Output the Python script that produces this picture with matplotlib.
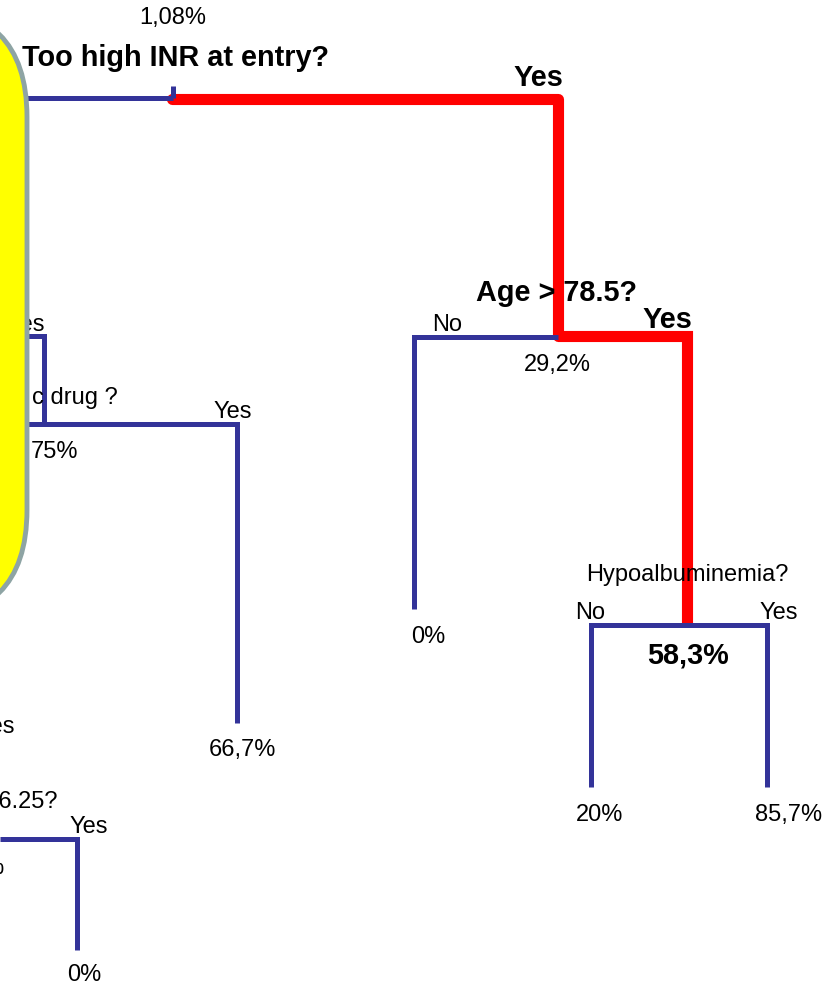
import matplotlib
matplotlib.use("Agg")
import matplotlib.pyplot as plt
from matplotlib.patches import FancyBboxPatch

plt.rcParams['font.family'] = ['Liberation Sans', 'DejaVu Sans']

# node questions, branch labels and leaf / node percentages
questions = ["Too high INR at entry?", "Age > 78.5?", "Hypoalbuminemia?", "c drug ?", "> 6.25?"]
question_bold = [True, True, False, False, False]
question_xy = [(176, 58), (557, 293), (687, 575), (32, 398), (57, 802)]
question_ha = ["center", "center", "center", "left", "right"]

branches = ["Yes", "Yes", "No", "No", "Yes", "Yes", "Yes", "Yes", "Yes"]
branch_bold = [True, True, False, False, False, False, False, False, False]
branch_xy = [(538, 78), (667, 320), (447, 325), (590, 613), (779, 613),
             (45, 325), (233, 412), (15, 727), (89, 827)]
branch_ha = ["center", "center", "center", "center", "center",
             "right", "center", "right", "center"]

pcts = ["1,08%", "29,2%", "58,3%", "0%", "20%", "85,7%", "75%", "66,7%", "0%", "0%"]
pct_bold = [False, False, True, False, False, False, False, False, False, False]
pct_xy = [(173, 18), (557, 365), (688, 655), (428, 637), (600, 815), (789, 815),
          (31, 452), (242, 750), (84, 975), (4, 868)]
pct_ha = ["center", "center", "center", "center", "center", "center",
          "left", "center", "center", "right"]

# tree branches (polylines)
blue_paths = [
    [(27, 99), (173, 99)],
    [(173, 87), (173, 99)],
    [(414, 610), (414, 338), (558, 338)],
    [(591, 788), (591, 626), (767, 626), (767, 788)],
    [(27, 337), (44, 337), (44, 425)],
    [(27, 425), (237, 425), (237, 724)],
    [(0, 840), (77, 840), (77, 951)],
]
red_paths = [
    [(172, 100), (558, 100), (558, 337)],
    [(558, 337), (687, 337), (687, 626)],
]

BLUE = '#333399'
RED = '#FF0000'

fig = plt.figure(figsize=(8.35, 9.87), dpi=100)
ax = fig.add_axes([0, 0, 1, 1])
ax.set_xlim(0, 835)
ax.set_ylim(987, 0)
ax.axis('off')

# red highlighted path
for i, path in enumerate(red_paths):
    xs, ys = zip(*path)
    if i == 0:
        ax.plot(xs, ys, color=RED, lw=8, solid_joinstyle='round',
                solid_capstyle='round', zorder=2)
    else:
        ax.plot(xs, ys, color=RED, lw=8, solid_joinstyle='miter',
                solid_capstyle='butt', zorder=2)

for path in blue_paths:
    xs, ys = zip(*path)
    ax.plot(xs, ys, color=BLUE, lw=3.6, solid_joinstyle='miter',
            solid_capstyle='butt', zorder=2.5)

# yellow box on the left (mostly cut off)
box = FancyBboxPatch((-200, 8), 227, 613, boxstyle="round,pad=0,rounding_size=110",
                     facecolor='#FFFF00', edgecolor='#8EA4A4', lw=3.5, zorder=3)
ax.add_patch(box)

def put(txts, xys, bolds, has, size_n=17, size_b=20.8):
    for t, (x, y), b, ha in zip(txts, xys, bolds, has):
        ax.text(x, y, t, ha=ha, va='center', fontsize=size_b if b else size_n,
                fontweight='bold' if b else 'normal', color='black', zorder=2.8)

put(questions, question_xy, question_bold, question_ha)
put(branches, branch_xy, branch_bold, branch_ha)
put(pcts, pct_xy, pct_bold, pct_ha)

fig.savefig("out.png", dpi=100)
